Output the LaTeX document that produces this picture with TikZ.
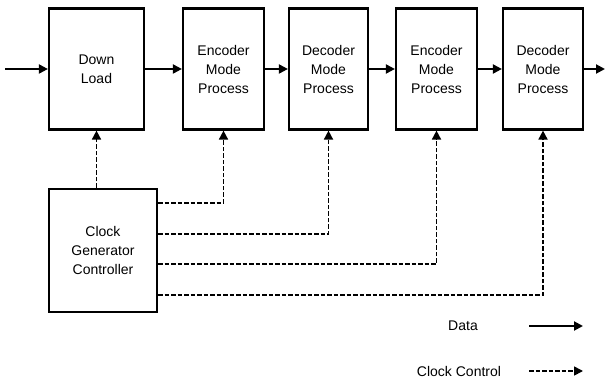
\documentclass[tikz,border=0pt]{standalone}
\usepackage{fontspec}
\setmainfont{Liberation Sans}
\usetikzlibrary{arrows.meta}
\begin{document}
\begin{tikzpicture}[x=1pt,y=-1pt,
  box/.style={draw,line width=2.2pt,align=center,font=\fontsize{14}{19}\selectfont,inner sep=0pt},
  data/.style={line width=2pt,-{Triangle[length=9pt,width=9pt]}},
  clk/.style={line width=1.7pt,dash pattern=on 4.5pt off 2pt,-{Triangle[length=9pt,width=9pt]}},
  lbl/.style={font=\fontsize{14}{17}\selectfont,inner sep=0pt}]
\useasboundingbox (0,0) rectangle (607,382);
\node[box,minimum width=95pt,minimum height=121pt] (dl) at (96.5,69) {Down\\Load};
\node[box,minimum width=81pt,minimum height=121pt] (e1) at (223.5,69) {Encoder\\Mode\\Process};
\node[box,minimum width=79pt,minimum height=121pt] (d1) at (328.5,69) {Decoder\\Mode\\Process};
\node[box,minimum width=81pt,minimum height=121pt] (e2) at (436.5,69) {Encoder\\Mode\\Process};
\node[box,minimum width=80pt,minimum height=121pt] (d2) at (543,69) {Decoder\\Mode\\Process};
\node[box,minimum width=108pt,minimum height=123pt] (cg) at (103,250.5) {Clock\\Generator\\Controller};
\coordinate (in) at (5,69);
\coordinate (out) at (605,69);
\draw[data] (in) -- (dl);
\draw[data] (dl) -- (e1);
\draw[data] (e1) -- (d1);
\draw[data] (d1) -- (e2);
\draw[data] (e2) -- (d2);
\draw[data] (d2) -- (out);
\draw[clk] (cg.north -| dl.south) -- (dl.south);
\draw[clk] ([yshift=-15pt]cg.north east) -| (e1.south);
\draw[clk] ([yshift=-46pt]cg.north east) -| (d1.south);
\draw[clk] ([yshift=-76pt]cg.north east) -| (e2.south);
\draw[clk] ([yshift=-107pt]cg.north east) -| (d2.south);
\node[lbl] (ldata) at (463,326) {Data};
\node[lbl] (lclk) at (459,371) {Clock Control};
\coordinate (a1) at (529,326);
\coordinate (a2) at (583,326);
\coordinate (b1) at (529,371);
\coordinate (b2) at (583,371);
\draw[data] (a1) -- (a2);
\draw[clk] (b1) -- (b2);
\end{tikzpicture}
\end{document}
